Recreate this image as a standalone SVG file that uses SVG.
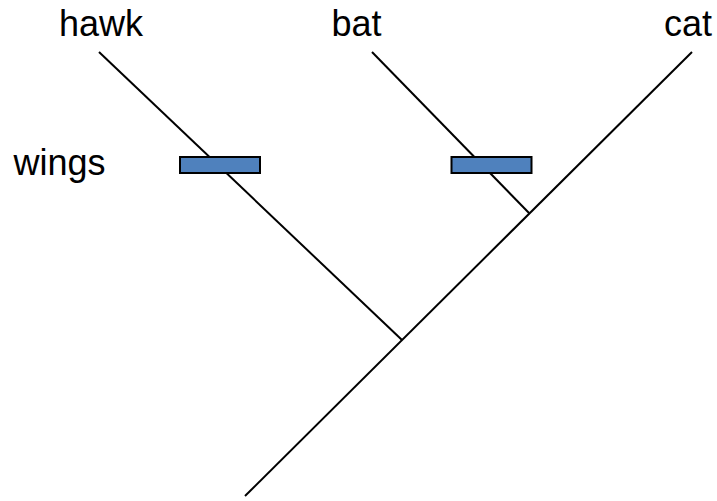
<svg xmlns="http://www.w3.org/2000/svg" width="717" height="501" viewBox="0 0 717 501">
  <style>
    .lbl { font-family: "Liberation Sans", Arial, sans-serif; font-size: 36px; fill: #000; text-anchor: middle; }
    .edge { stroke: #000; stroke-width: 2; fill: none; }
    .trait { fill: #4F81BD; stroke: #000; stroke-width: 2; }
  </style>
  <rect width="717" height="501" fill="#fff"/>
  <!-- tree branches -->
  <g id="connectors">
    <line class="edge" x1="245" y1="496" x2="692" y2="52"/>
    <line class="edge" x1="99" y1="52" x2="402" y2="340"/>
    <line class="edge" x1="372" y1="52" x2="529" y2="213"/>
  </g>
  <!-- taxa -->
  <g id="hawk"><text class="lbl" x="101" y="36">hawk</text></g>
  <g id="bat"><text class="lbl" x="356.5" y="36">bat</text></g>
  <g id="cat"><text class="lbl" x="688" y="36">cat</text></g>
  <!-- trait markers -->
  <g id="wings-label"><text class="lbl" x="59.5" y="175">wings</text></g>
  <g id="wings-hawk"><rect class="trait" x="180" y="157" width="80" height="16"/></g>
  <g id="wings-bat"><rect class="trait" x="451.5" y="157" width="80" height="16"/></g>
</svg>
